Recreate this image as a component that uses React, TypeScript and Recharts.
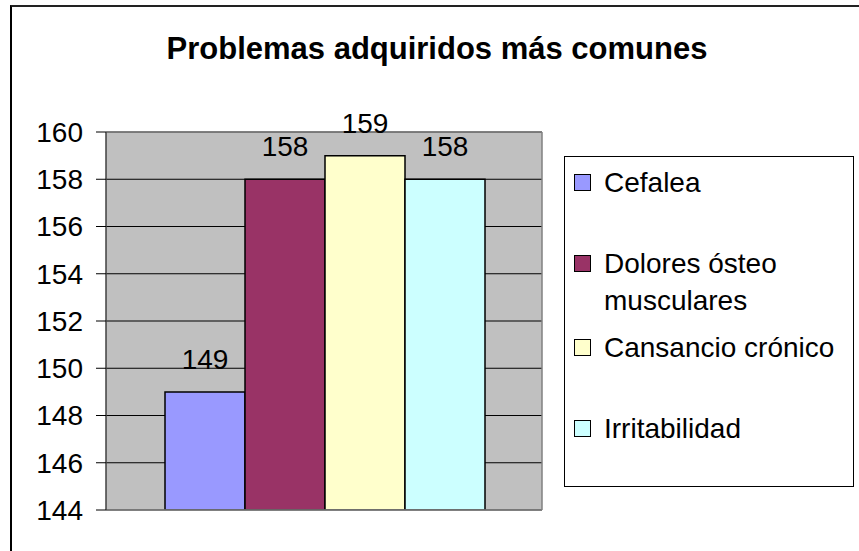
import React from "react";
import { Bar, BarChart, CartesianGrid, LabelList, Legend, XAxis, YAxis } from "recharts";

const categories = [""];
const seriesNames = ["Cefalea", "Dolores ósteo musculares", "Cansancio crónico", "Irritabilidad"];
const seriesValues = [149, 158, 159, 158];
const seriesColors = ["#9999FF", "#993366", "#FFFFCC", "#CCFFFF"];
const yTicks = [144, 146, 148, 150, 152, 154, 156, 158, 160];

const FONT = '"Liberation Sans", Arial, sans-serif';

const data = categories.map((name) => {
  const row: Record<string, string | number> = { name };
  seriesNames.forEach((s, i) => {
    row[s] = seriesValues[i];
  });
  return row;
});

// gaps between legend entries, Excel spreads them over the box
const itemGaps = [7, 44, 10, 44];

function LegendBox({ payload }: { payload?: any[] }) {
  // keep series order, not the alphabetical one
  const items = [...(payload || [])].sort((a, b) => seriesNames.indexOf(a.value) - seriesNames.indexOf(b.value));
  return (
    <div
      style={{
        boxSizing: "border-box",
        width: 290,
        height: 331,
        border: "1px solid #000",
        background: "#fff",
        fontFamily: FONT,
        fontSize: 28,
        lineHeight: "37px",
        color: "#000",
      }}
    >
      {items.map((entry, i) => (
        <div key={entry.value} style={{ display: "flex", alignItems: "flex-start", marginTop: itemGaps[i], paddingLeft: 9 }}>
          <span
            style={{
              boxSizing: "border-box",
              width: 17,
              height: 17,
              marginTop: 10,
              marginRight: 13,
              flexShrink: 0,
              background: entry.color,
              border: "1.5px solid #000",
            }}
          />
          <span style={{ width: 248 }}>{entry.value}</span>
        </div>
      ))}
    </div>
  );
}

export default function App() {
  return (
    <div style={{ position: "absolute", left: 0, top: 0, width: 859, height: 551, background: "#fff", overflow: "hidden" }}>
      <div
        style={{
          position: "absolute",
          left: 10,
          top: 5,
          right: -10,
          bottom: -10,
          borderLeft: "2px solid #000",
          borderTop: "2px solid #222",
        }}
      />
      <div
        style={{
          position: "absolute",
          left: 137,
          top: 31,
          width: 600,
          textAlign: "center",
          fontFamily: FONT,
          fontWeight: 700,
          fontSize: 31,
          color: "#000",
        }}
      >
        Problemas adquiridos más comunes
      </div>
      <div style={{ position: "absolute", left: 0, top: 0 }}>
        <BarChart
          width={859}
          height={551}
          data={data}
          margin={{ top: 132, right: 317, bottom: 0, left: 0 }}
          barCategoryGap={59}
          barGap={0}
          style={{ fontFamily: FONT }}
        >
          <CartesianGrid vertical={false} stroke="#000" strokeWidth={1} fill="#C0C0C0" fillOpacity={1} />
          {/* gray frame on the top and right side of the plot */}
          <CartesianGrid
            stroke="#808080"
            strokeWidth={1.5}
            horizontalCoordinatesGenerator={({ offset }: any) => [offset.top]}
            verticalCoordinatesGenerator={({ offset }: any) => [offset.left + offset.width]}
          />
          <XAxis dataKey="name" height={41} tick={false} tickLine={false} axisLine={{ stroke: "#808080", strokeWidth: 1.5 }} />
          <YAxis
            width={106}
            domain={[144, 160]}
            ticks={yTicks}
            allowDataOverflow
            interval={0}
            tickSize={10}
            tickMargin={13}
            tick={{ fontSize: 28, fill: "#000", fontFamily: FONT }}
            tickLine={{ stroke: "#000" }}
            axisLine={{ stroke: "#404040", strokeWidth: 1.5 }}
          />
          <Legend
            layout="horizontal"
            verticalAlign="middle"
            content={<LegendBox />}
            wrapperStyle={{ left: 564, top: 156, width: 290, height: 331 }}
          />
          {seriesNames.map((s, i) => (
            <Bar key={s} dataKey={s} name={s} fill={seriesColors[i]} stroke="#000" strokeWidth={1.5} isAnimationActive={false}>
              <LabelList dataKey={s} position="top" offset={23} style={{ fontSize: 28, fill: "#000", fontFamily: FONT }} />
            </Bar>
          ))}
        </BarChart>
      </div>
    </div>
  );
}
